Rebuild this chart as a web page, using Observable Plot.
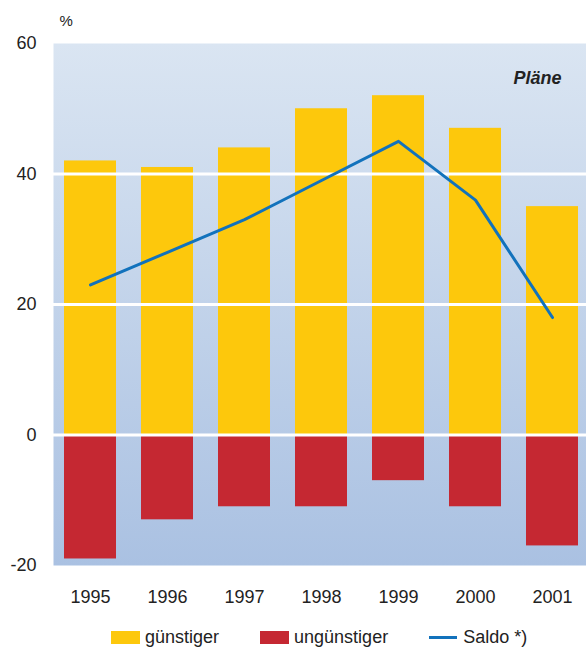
<!DOCTYPE html>
<html>
<head>
<meta charset="utf-8">
<script src="https://cdn.jsdelivr.net/npm/d3@7"></script>
<script src="https://cdn.jsdelivr.net/npm/@observablehq/plot@0.6"></script>
<style>
  html, body { margin: 0; padding: 0; background: #fff; }
  body { width: 586px; height: 647px; overflow: hidden; font-family: "Liberation Sans", Arial, sans-serif; color: #222; }
  #legend { display: flex; align-items: center; margin-left: 111px; margin-top: 14px; font-size: 18px; line-height: 18px; }
  .item { display: flex; align-items: center; margin-right: 41px; }
  .sw { width: 29px; height: 13px; margin-right: 5px; }
  .ln { width: 28px; height: 3px; margin-right: 6px; }
</style>
</head>
<body>
<div id="chart"></div>
<div id="legend"></div>
<script>
const years = ["1995", "1996", "1997", "1998", "1999", "2000", "2001"];
const guenstiger = [42, 41, 44, 50, 52, 47, 35];
const unguenstiger = [-19, -13, -11, -11, -7, -11, -17];
const saldo = [23, 28, 33, 39, 45, 36, 18];
const yTicks = [-20, 0, 20, 40, 60];
const gridTicks = [0, 20, 40];

const colors = { g: "#fdc80c", u: "#c52832", s: "#1272bc" };
const font = "'Liberation Sans', Arial, sans-serif";

const barsG = years.map((y, i) => ({ year: y, value: guenstiger[i] }));
const barsU = years.map((y, i) => ({ year: y, value: unguenstiger[i] }));
const line = years.map((y, i) => ({ year: y, value: saldo[i] }));

const plot = Plot.plot({
  width: 586,
  height: 614,
  marginLeft: 53,
  marginRight: 0,
  marginTop: 43,
  marginBottom: 49,
  style: { fontFamily: font, fontSize: "18px", color: "#222", background: "transparent" },
  x: { domain: years, range: [51.8, 591.3], paddingInner: 0.32, paddingOuter: 0.16, label: null, tickSize: 0, tickPadding: 25 },
  y: { domain: [-20, 60], ticks: yTicks, tickFormat: d => String(d), label: null, tickSize: 0, tickPadding: 17 },
  marks: [
    Plot.frame({ fill: "url(#bgGrad)", stroke: null }),
    Plot.barY(barsG, { x: "year", y: "value", fill: colors.g }),
    Plot.barY(barsU, { x: "year", y: "value", fill: colors.u }),
    Plot.ruleY(gridTicks, { stroke: "#fff", strokeWidth: 3 }),
    Plot.lineY(line, { x: "year", y: "value", stroke: colors.s, strokeWidth: 3 }),
    Plot.text(["Pläne"], { frameAnchor: "top-right", lineAnchor: "middle", dx: -25, dy: 35, fontWeight: "bold", fontStyle: "italic", fontSize: 18, fill: "#222" }),
    Plot.text(["%"], { frameAnchor: "top-left", lineAnchor: "middle", textAnchor: "start", dx: 6, dy: -22, fontSize: 15, fill: "#222" })
  ]
});

// gradient definition for the plot background
const svg = d3.select(plot);
const defs = svg.insert("defs", ":first-child");
const grad = defs.append("linearGradient").attr("id", "bgGrad").attr("x1", 0).attr("y1", 0).attr("x2", 0).attr("y2", 1);
grad.append("stop").attr("offset", "0%").attr("stop-color", "#dae5f2");
grad.append("stop").attr("offset", "100%").attr("stop-color", "#aac1e2");

document.getElementById("chart").appendChild(plot);

// legend
const legendItems = [
  { label: "günstiger", color: colors.g, type: "sw" },
  { label: "ungünstiger", color: colors.u, type: "sw" },
  { label: "Saldo *)", color: colors.s, type: "ln" }
];
const lg = d3.select("#legend");
legendItems.forEach(d => {
  const it = lg.append("div").attr("class", "item");
  it.append("div").attr("class", d.type).style("background", d.color);
  it.append("span").text(d.label);
});
</script>
</body>
</html>
